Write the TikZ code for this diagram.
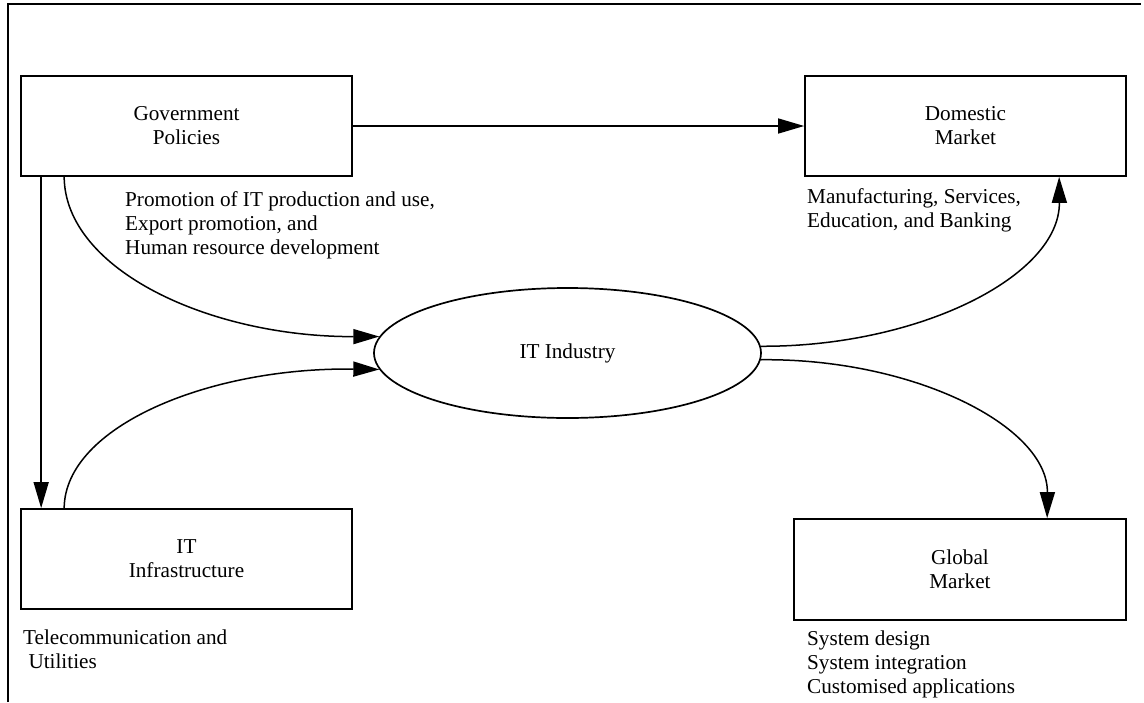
\documentclass[tikz,border=0pt]{standalone}
\usepackage{fontspec}
\setmainfont{Liberation Serif}
\usetikzlibrary{arrows.meta,shapes.geometric}
\begin{document}
\begin{tikzpicture}[x=1pt,y=-1pt,
  box/.style={draw,line width=1.7pt,rectangle,inner sep=0pt,align=center,font=\fontsize{21.2}{24}\selectfont},
  lbl/.style={inner sep=0pt,align=left,anchor=north west,font=\fontsize{21.2}{24}\selectfont},
  conn/.style={line width=1.5pt,-{Triangle[length=26pt,width=15pt]}}]
\useasboundingbox (0,0) rectangle (1144,702);
\draw[line width=2.6pt] (8,702) -- (8,4) -- (1141,4);
\node[box,minimum width=331pt,minimum height=100pt] (gov) at (186.5,126) {Government\\Policies};
\node[box,minimum width=321pt,minimum height=100pt] (dom) at (965.5,126) {Domestic\\Market};
\node[box,minimum width=331pt,minimum height=100pt] (inf) at (186.5,559) {IT\\Infrastructure};
\node[box,minimum width=332pt,minimum height=101pt] (glo) at (960,569.5) {Global\\Market};
\node[box,ellipse,minimum width=387pt,minimum height=130pt] (it) at (567.5,353) {IT Industry};
\node[lbl] (l1) at (125,191) {Promotion of IT production and use,\\Export promotion, and\\Human resource development};
\node[lbl] (l2) at (807,188) {Manufacturing, Services,\\Education, and Banking};
\node[lbl] (l3) at (23,630) {Telecommunication and\\\ Utilities};
\node[lbl] (l4) at (807,631) {System design\\System integration\\Customised applications};
\coordinate (g1) at ([xshift=21pt]gov.south west);
\coordinate (g2) at ([xshift=44pt]gov.south west);
\coordinate (i1) at ([xshift=21pt]inf.north west);
\coordinate (i2) at ([xshift=44pt]inf.north west);
\coordinate (d1) at ([xshift=255pt]dom.south west);
\coordinate (q1) at ([xshift=254pt]glo.north west);
\draw[conn] (gov.east) -- (dom.west);
\draw[conn] (g1) -- (i1);
\draw[conn] (g2) .. controls (65,270) and (210,337) .. (it.175);
\draw[conn] (i2) .. controls (65,426) and (210,367) .. (it.185);
\draw[conn] (it.2) .. controls (919,347) and (1060,276) .. (d1);
\draw[conn] (it.-2) .. controls (913,358) and (1048,426) .. (q1);
\end{tikzpicture}
\end{document}
